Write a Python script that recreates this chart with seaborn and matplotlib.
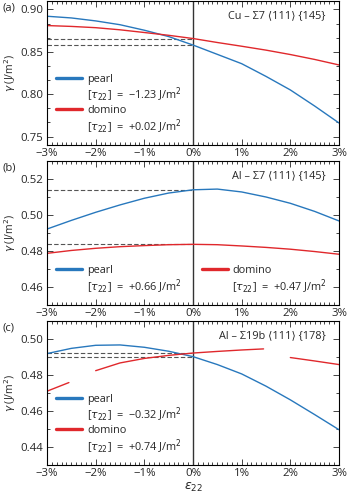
import numpy as np
import pandas as pd
import matplotlib
matplotlib.use("Agg")
import matplotlib.pyplot as plt
from matplotlib.lines import Line2D
from matplotlib.ticker import MultipleLocator, AutoMinorLocator, FuncFormatter
import seaborn as sns

# strain grid (%)
strain = [-3, -2.5, -2, -1.5, -1, -0.5, 0, 0.5, 1, 1.5, 2, 2.5, 3]

# (a) Cu - Sigma7
a_pearl = [0.892, 0.890, 0.8865, 0.882, 0.8755, 0.868, 0.858, 0.847, 0.836, 0.821, 0.805, 0.786, 0.766]
a_domino = [0.881, 0.880, 0.8785, 0.876, 0.8728, 0.8695, 0.8657, 0.861, 0.8566, 0.852, 0.8468, 0.841, 0.8345]

# (b) Al - Sigma7
b_pearl = [0.4922, 0.497, 0.5015, 0.5056, 0.5093, 0.5122, 0.514, 0.5144, 0.5128, 0.510, 0.5065, 0.502, 0.4967]
b_domino = [0.4787, 0.4803, 0.4815, 0.4824, 0.483, 0.4835, 0.4837, 0.4835, 0.4828, 0.482, 0.481, 0.4797, 0.4782]

# (c) Al - Sigma19b (domino is broken into segments)
c_pearl = [0.4919, 0.4948, 0.4965, 0.4967, 0.4954, 0.4932, 0.4902, 0.4858, 0.4806, 0.4738, 0.4662, 0.458, 0.4496]
c_dom_x1 = [-3, -2.55]
c_dom_y1 = [0.471, 0.4758]
c_dom_x2 = [-2, -1.5, -1, -0.5, 0, 0.5, 1, 1.45]
c_dom_y2 = [0.4824, 0.4867, 0.4892, 0.4909, 0.4922, 0.4931, 0.4939, 0.4945]
c_dom_x3 = [2, 2.5, 3]
c_dom_y3 = [0.4897, 0.4878, 0.4858]

titles = ["Cu – Σ7 ⟨111⟩ {145}", "Al – Σ7 ⟨111⟩ {145}", "Al – Σ19b ⟨111⟩ {178}"]
tau_pearl = ["−1.23", "+0.66", "−0.32"]
tau_domino = ["+0.02", "+0.47", "+0.74"]
ylims = [(0.74, 0.91), (0.45, 0.53), (0.43, 0.51)]
ymajor = [0.05, 0.02, 0.02]
yminor = [3, 2, 2]
letters = ["(a)", "(b)", "(c)"]

blue = "#2878bd"
red = "#e0282c"

sns.set_style("ticks")
plt.rcParams["font.family"] = ["Open Sans", "DejaVu Sans"]
plt.rcParams["mathtext.fontset"] = "dejavusans"
plt.rcParams["font.size"] = 8
plt.rcParams["axes.linewidth"] = 0.8
plt.rcParams["axes.edgecolor"] = "black"


def mkdf(parts):
    rows = []
    for seg, (name, xs, ys) in enumerate(parts):
        for x, y in zip(xs, ys):
            rows.append({"strain": x, "gamma": y, "structure": name, "seg": seg})
    return pd.DataFrame(rows)


data = [
    mkdf([("pearl", strain, a_pearl), ("domino", strain, a_domino)]),
    mkdf([("pearl", strain, b_pearl), ("domino", strain, b_domino)]),
    mkdf([("pearl", strain, c_pearl), ("domino", c_dom_x1, c_dom_y1),
          ("domino", c_dom_x2, c_dom_y2), ("domino", c_dom_x3, c_dom_y3)]),
]
zero_vals = [(a_pearl[6], a_domino[6]), (b_pearl[6], b_domino[6]), (c_pearl[6], c_dom_y2[4])]

fig = plt.figure(figsize=(3.55, 4.97), dpi=100)
left, width = 47 / 355, 292 / 355
tops = [1, 161, 321]
pct = FuncFormatter(lambda v, p: f"{v:.0f}%".replace("-", "−"))

for i in range(3):
    top = tops[i]
    ax = fig.add_axes([left, 1 - (top + 144) / 497, width, 144 / 497])
    sns.lineplot(data=data[i], x="strain", y="gamma", hue="structure", units="seg",
                 estimator=None, palette={"pearl": blue, "domino": red},
                 legend=False, lw=1.0, ax=ax, sort=False)
    ax.axvline(0, color="#333333", lw=1.0, zorder=1)
    for v in zero_vals[i]:
        ax.plot([-3, 0], [v, v], ls=(0, (4, 2)), color="#555555", lw=0.8, zorder=1)
    ax.set_xlim(-3, 3)
    ax.set_ylim(*ylims[i])
    ax.xaxis.set_major_locator(MultipleLocator(1))
    ax.xaxis.set_minor_locator(MultipleLocator(0.1))
    ax.yaxis.set_major_locator(MultipleLocator(ymajor[i]))
    ax.yaxis.set_minor_locator(AutoMinorLocator(yminor[i]))
    ax.xaxis.set_major_formatter(pct)
    ax.yaxis.set_major_formatter(FuncFormatter(lambda v, p: f"{v:.2f}"))
    ax.tick_params(which="both", direction="in", top=True, right=True, labelsize=8.2,
                   width=0.6)
    ax.tick_params(which="major", length=4, pad=2.5)
    ax.tick_params(which="minor", length=2)
    ax.set_ylabel(r"$\gamma$ (J/m$^2$)", fontsize=7.6, labelpad=2)
    ax.set_xlabel(r"$\varepsilon_{22}$" if i == 2 else "", fontsize=9, labelpad=1)
    ax.text(0.955, 0.895, titles[i], transform=ax.transAxes, ha="right", va="center",
            fontsize=7.8, family=["Open Sans", "DejaVu Sans"])
    fig.text(3 / 355, 1 - (top + 7) / 497, letters[i], ha="left", va="center", fontsize=8)

    lab_p = r"[$\tau_{22}$]  =  " + tau_pearl[i] + r" J/m$^2$"
    lab_d = r"[$\tau_{22}$]  =  " + tau_domino[i] + r" J/m$^2$"
    h_p = Line2D([], [], color=blue, lw=2.4)
    h_d = Line2D([], [], color=red, lw=2.4)
    h_0 = Line2D([], [], color="none", lw=0)
    if i == 1:
        ax.legend([h_p, h_0, h_d, h_0], ["pearl", lab_p, "domino", lab_d], ncol=2,
                  loc="lower left", bbox_to_anchor=(0.01, 0.02), frameon=False,
                  handlelength=2.4, handletextpad=0.45, labelspacing=0.12,
                  columnspacing=1.8, fontsize=7.8, borderaxespad=0.2)
    else:
        ax.legend([h_p, h_0, h_d, h_0], ["pearl", lab_p, "domino", lab_d],
                  loc="lower left", bbox_to_anchor=(0.01, 0.02), frameon=False,
                  handlelength=2.4, handletextpad=0.45, labelspacing=0.1,
                  fontsize=7.8, borderaxespad=0.2)

fig.savefig("out.png", dpi=100)
